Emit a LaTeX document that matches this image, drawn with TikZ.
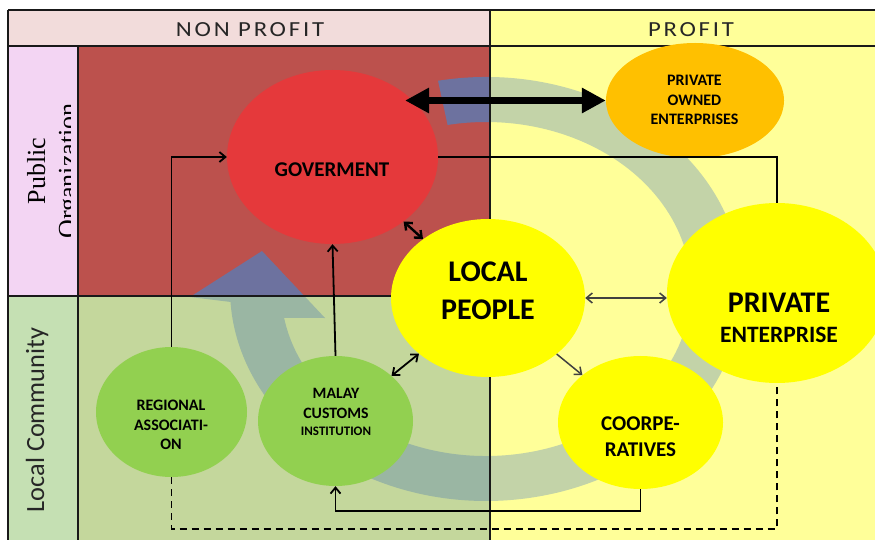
\documentclass[tikz,border=0pt]{standalone}
\usepackage{fontspec}
\setmainfont{Carlito}
\newfontfamily\pubserif{Liberation Serif}
\newfontfamily\headsans[LetterSpace=13,FakeStretch=1.15]{Carlito}
\usetikzlibrary{shapes.geometric,arrows.meta,calc}

\definecolor{hdrnp}{HTML}{F2DCDB}
\definecolor{paleyel}{HTML}{FFFF99}
\definecolor{pubcol}{HTML}{F3D5F3}
\definecolor{loccol}{HTML}{C5E0B3}
\definecolor{redq}{HTML}{BC514D}
\definecolor{greenq}{HTML}{C4D79C}
\definecolor{bandtl}{HTML}{6D729F}
\definecolor{bandbl}{HTML}{9AB6A3}
\definecolor{bandr}{HTML}{C3D3A8}
\definecolor{govred}{HTML}{E5393B}
\definecolor{poeor}{HTML}{FFC000}
\definecolor{brightyel}{HTML}{FFFF00}
\definecolor{leaf}{HTML}{92D050}

% outline of the broad circular arrow running round the chart
\newcommand{\cyclearrow}{%
  (486,289) ++(-100.8:256 and 212)
  arc[start angle=-100.8, end angle=176.5, x radius=256, y radius=212]
  -- (190,297) -- (262,251) -- (325,318)
  -- ($(486,289)+(170:205 and 167)$)
  arc[start angle=170, end angle=-100.8, x radius=205, y radius=167]
  -- cycle}

\begin{document}
\begin{tikzpicture}[x=1bp,y=-1bp,
  ell/.style={ellipse, draw=none, inner sep=0pt},
  txt/.style={align=center, inner sep=0pt, text=black},
  fs/.style 2 args={font=\bfseries\fontsize{#1bp}{#2bp}\selectfont},
  linkline/.style={line width=1.8bp, draw=black},
  greyline/.style={line width=1.5bp, draw=black!75},
  barbone/.style={-{Straight Barb[length=6bp,width=10bp]}},
  barbtwo/.style={{Straight Barb[length=6bp,width=10bp]}-{Straight Barb[length=6bp,width=10bp]}},
  gridline/.style={line width=2bp, draw=black!90},
  bigarrow/.style={line width=7bp, {Triangle[length=24bp,width=24bp]}-{Triangle[length=24bp,width=24bp]}},
  hdr/.style={inner sep=0pt, font=\headsans\fontsize{21.5bp}{25bp}\selectfont, text=black!85},
]
\useasboundingbox (0,0) rectangle (875,540);
\clip (0,0) rectangle (875,540);
\fill[white] (0,0) rectangle (875,540);

% header cells
\fill[hdrnp] (8,10) rectangle (490,46);
\fill[paleyel] (490,10) rectangle (875,46);
% row label column
\fill[pubcol] (8,46) rectangle (78,296);
\fill[loccol] (8,296) rectangle (78,540);
% quadrants
\fill[redq] (78,46) rectangle (490,296);
\fill[greenq] (78,296) rectangle (490,540);
\fill[paleyel] (490,46) rectangle (875,540);

% translucent cycle arrow, tinted by the zone beneath it
\begin{scope}
  \clip (78,46) rectangle (490,296);
  \fill[bandtl] \cyclearrow;
\end{scope}
\begin{scope}
  \clip (78,296) rectangle (490,540);
  \fill[bandbl] \cyclearrow;
\end{scope}
\begin{scope}
  \clip (490,46) rectangle (875,540);
  \fill[bandr] \cyclearrow;
\end{scope}

% header and row labels
\node[hdr] (nph) at (250,29.5) {NON PROFIT};
\node[hdr] (ph) at (691,29.5) {PROFIT};
\begin{scope}
  % the label frame is narrower than the column, so the second line is cut
  \clip (8,46) rectangle (70,296);
  \node[rotate=90, anchor=north, align=center, inner sep=0pt,
        font=\pubserif\fontsize{26bp}{31bp}\selectfont] (pubt) at (27,171) {Public\\Organization};
\end{scope}
\node[rotate=90, anchor=base, inner sep=0pt, font=\fontsize{26.3bp}{30bp}\selectfont,
      text=black!85] (loct) at (44,420) {Local Community};

% grid
\draw[gridline, line width=2.5bp] (8,10) -- (875,10);
\draw[gridline] (8,10) -- (8,540);
\draw[gridline] (8,46) -- (875,46);
\draw[gridline, line width=2.4bp] (78,46) -- (78,540);
\draw[gridline] (8,296) -- (490,296);
\draw[gridline] (490,10) -- (490,540);

% actors
\node[ell, fill=govred, minimum width=211bp, minimum height=174bp] (gov) at (332.5,157) {};
\node[ell, fill=poeor, minimum width=178bp, minimum height=115bp] (poe) at (695,100.5) {};
\node[ell, fill=brightyel, minimum width=194bp, minimum height=158bp] (lp) at (488,298) {};
\node[ell, fill=brightyel, minimum width=220bp, minimum height=180bp] (pe) at (777,293) {};
\node[ell, fill=brightyel, minimum width=165bp, minimum height=133bp] (coop) at (640.5,422.5) {};
\node[ell, fill=leaf, minimum width=151bp, minimum height=130bp] (reg) at (171.5,412) {};
\node[ell, fill=leaf, minimum width=155bp, minimum height=130bp] (mal) at (335.5,421) {};

\node[txt, fs={21}{25}] (govt) at (332,169.5) {GOVERMENT};
\node[txt, fs={16}{19.5}] (poet) at (694.5,100) {PRIVATE\\OWNED\\ENTERPRISES};
\node[txt, fs={30}{38}] (lpt) at (488,290.5) {LOCAL\\PEOPLE};
\node[txt, fs={23.5}{30}] (pet) at (779,317.4) {{\fontsize{30bp}{30bp}\selectfont PRIVATE}\\ENTERPRISE};
\node[txt, fs={21}{26}] (coopt) at (640.5,437) {COORPE-\\RATIVES};
\node[txt, fs={16}{19.5}] (regt) at (171,425) {REGIONAL\\ASSOCIATI-\\ON};
\node[txt, fs={15.8}{20}] (malt) at (336,412.4) {MALAY\\CUSTOMS\\[-3bp]{\fontsize{13bp}{17bp}\selectfont INSTITUTION}};

% relations
\coordinate (cb) at (0,511);
\coordinate (db) at (0,529);
\draw[bigarrow, shorten <=-8bp] (gov.35 |- poe.west) -- (poe.west);
\draw[linkline, barbone] (reg.north) |- (gov.west);
\draw[linkline, barbone] (mal.north) -- (gov.south);
\draw[linkline, line width=2.4bp, barbtwo] (gov) -- (lp);
\draw[greyline, barbtwo] (lp.east) -- (lp.east -| pe.west);
\draw[linkline, barbtwo] (lp) -- (mal);
\draw[greyline, barbone] (lp) -- (coop);
\draw[linkline, barbone] (coop.south) -- (coop.south |- cb) -| (mal.south);
\draw[linkline, dash pattern=on 7bp off 5bp] (reg.south) -- (reg.south |- db) -| (pe.south);
\draw[linkline] (gov.east) -| (pe.north);
\end{tikzpicture}
\end{document}
